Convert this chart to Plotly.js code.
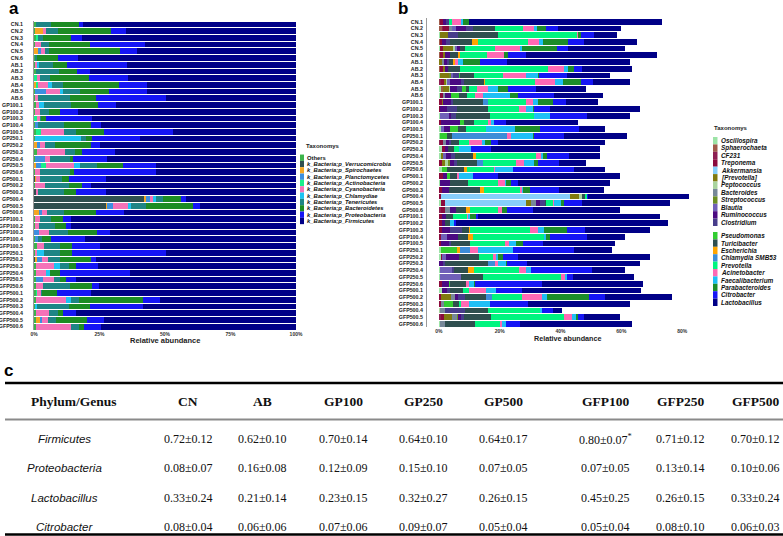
<!DOCTYPE html>
<html><head><meta charset="utf-8">
<script src="https://cdn.plot.ly/plotly-3.0.1.min.js"></script>
<style>html,body{margin:0;padding:0;background:#fff;}#chart{width:783px;height:536px;}</style>
</head><body><div id="chart"></div>
<script>
// ---------- samples ----------
const samples = ["CN.1","CN.2","CN.3","CN.4","CN.5","CN.6",
 "AB.1","AB.2","AB.3","AB.4","AB.5","AB.6",
 "GP100.1","GP100.2","GP100.3","GP100.4","GP100.5",
 "GP250.1","GP250.2","GP250.3","GP250.4","GP250.5","GP250.6",
 "GP500.1","GP500.2","GP500.3","GP500.4","GP500.5","GP500.6",
 "GFP100.1","GFP100.2","GFP100.3","GFP100.4","GFP100.5",
 "GFP250.1","GFP250.2","GFP250.3","GFP250.4","GFP250.5","GFP250.6",
 "GFP500.1","GFP500.2","GFP500.3","GFP500.4","GFP500.5","GFP500.6"];

// ---------- panel a : phylum relative abundance (%) ----------
const phylaLabels = ["Others","k_Bacteria;p_Verrucomicrobia","k_Bacteria;p_Spirochaetes","k_Bacteria;p_Planctomycetes",
 "k_Bacteria;p_Actinobacteria","k_Bacteria;p_Cyanobacteria","k_Bacteria;p_Chlamydiae","k_Bacteria;p_Tenericutes",
 "k_Bacteria;p_Bacteroidetes","k_Bacteria;p_Proteobacteria","k_Bacteria;p_Firmicutes"];
const aOthers = [.6,.5,.6,.5,0,.4, .4,.6,0,0,.5,.5, .9,.5,0,.5,.9, .5,0,1.3,.5,0,.5, 0,.5,0,0,0,0, .5,.5,0,.5,1.3, .5,0,.6,.6,.6,.9, .6,.9,.5,.6,.6,.6];
const aVerrucomicrobia = [0,0,0,0,0,0, 0,0,0,0,0,0, 0,0,0,0,0, 0,0,0,0,0,0, .4,0,.6,42.0,27.5,0, 0,0,0,0,0, 0,.4,0,0,0,0, 0,0,0,0,0,0];
const aSpirochaetes = [0,2.9,0,0,1.5,0, 0,0,0,.9,0,0, 0,0,0,0,0, 0,1.3,0,0,.9,0, .5,0,0,.6,.5,1.9, 0,0,0,0,0, 0,.8,0,0,0,0, 0,0,0,0,1.5,0];
const aPlanctomycetes = [0,0,0,0,1.3,0, 0,0,0,0,4.2,0, 0,0,0,1.0,0, 0,1.1,0,3.6,1.9,0, 0,0,0,1.7,2.3,1.3, 0,0,1.8,1.0,0, 0,2.0,0,0,2.8,0, 0,0,0,0,1.0,0];
const aActinobacteria = [0,0,.9,0,0,0, 0,0,1.3,.6,0,0, 0,0,1.3,0,1.9, 0,0,0,0,1.7,0, 0,0,0,0,0,0, 0,0,0,0,0, 0,0,0,0,0,0, .6,0,0,0,0,0];
const aCyanobacteria = [0,1.3,0,2.3,1.5,0, .8,0,1.1,3.8,5.1,1.0, 1.0,1.7,.9,0,8.6, 0,1.7,10.5,1.9,10.7,1.9, 1.3,3.6,1.0,1.3,5.7,1.8, 1.7,1.4,4.0,0,2.6, .8,2.2,7.0,3.8,4.1,2.6, 1.3,11.2,0,5.0,2.4,13.7];
const aChlamydiae = [0,0,0,0,0,0, .8,0,0,1.7,1.3,0, 1.8,0,0,0,0, 17.6,0,0,0,2.3,0, 0,0,0,.8,.9,0, 0,0,0,0,0, 2.6,0,2.2,1.8,0,0, 0,1.9,.8,0,0,0];
const aTenericutes = [5.7,4.5,1.9,2.8,1.3,.8, 5.1,8.9,3.6,4.1,6.4,12.1, 10.6,3.6,.6,9.8,4.6, 1.7,3.8,3.8,7.7,6.4,11.5, 8.4,9.3,9.8,2.8,5.7,6.4, 4.1,6.0,7.3,1.7,6.0, 6.0,4.7,3.6,0,2.3,10.2, .6,3.2,12.1,3.6,2.9,2.9];
const aBacteroidetes = [10.9,20.2,10.9,15.7,27.2,7.8, 5.4,7.0,15.1,21.3,11.2,10.0, 10.2,4.1,1.7,10.3,10.7, 2.2,14.0,2.9,1.0,10.0,1.3, 2.8,5.1,4.7,7.0,18.0,12.3, 4.6,4.2,10.9,3.2,4.5, 4.5,11.5,2.6,3.6,2.3,8.3, 5.7,24.5,7.9,1.9,11.9,1.9];
const aProteobacteria = [1.5,5.7,4.2,21.1,6.4,7.7, 23.0,4.7,14.9,10.6,14.3,26.7, 6.8,7.0,17.5,3.8,26.3, 18.5,3.2,12.4,13.0,12.8,31.4, 14.0,3.4,11.5,1.7,2.6,10.5, 3.1,2.2,5.1,13.0,10.9, 35.8,2.0,8.6,26.8,3.8,2.9, 13.0,6.4,20.4,5.1,6.3,6.3];
const aFirmicutes = [81.3,64.9,81.5,57.6,60.8,83.3, 64.5,78.8,64.0,57.0,57.0,49.7, 68.7,83.1,78.0,74.6,47.0, 59.5,74.9,69.1,72.3,53.3,53.4, 72.6,78.1,72.4,42.1,36.8,65.8, 86.0,85.7,70.9,80.6,74.7, 49.8,76.4,75.4,63.4,84.1,75.1, 78.2,51.9,58.3,83.8,73.4,74.6];
const phylaValues = [aOthers,aVerrucomicrobia,aSpirochaetes,aPlanctomycetes,aActinobacteria,aCyanobacteria,aChlamydiae,aTenericutes,aBacteroidetes,aProteobacteria,aFirmicutes];
const phylaColors = ["#3CB44B","#2F4F4F","#F5A623","#3D8FE0","#19F08A","#F472B8","#1EC3F2","#1E8585","#1C8C24","#1515F5","#000087"];

// ---------- panel b : genus relative abundance (%) ----------
const genusLabels = ["Oscillospira","Sphaerochaeta","CF231","Treponema","Akkermansia","[Prevotella]","Peptococcus","Bacteroides",
 "Streptococcus","Blautia","Ruminococcus","Clostridium","Pseudomonas","Turicibacter","Escherichia","Chlamydia SMB53",
 "Prevotella","Acinetobacter","Faecalibacterium","Parabacteroides","Citrobacter","Lactobacillus"];
const bOscillospira = [0,0,.3,0,.3,0, 0,0,.4,0,.8,.5, 0,0,.4,0,.6, .5,0,1.0,.8,0,.9, 0,.5,0,0,.8,0, 0,0,0,0,0, .8,.6,0,.4,.5,0, 1.1,0,0,0,0,.3];
const bSphaerochaeta = [.5,.9,0,.3,0,.3, 0,.5,0,0,.5,0, 0,0,0,0,0, 0,0,0,0,0,0, 0,0,0,0,0,0, 0,0,0,0,0, 0,0,0,0,0,0, 0,0,0,0,0,0];
const bCF231 = [0,.5,0,0,0,0, 0,0,0,.6,0,0, 0,0,0,0,0, 0,.5,0,0,0,0, 0,0,0,0,0,.8, 0,0,0,0,0, 0,0,0,0,0,0, 0,0,0,0,.6,0];
const bTreponema = [.8,2.0,0,.8,1.1,.9, 0,.8,0,1.0,0,1.0, 1.0,.5,0,.8,0, 0,.8,1.1,0,1.1,0, 1.3,0,1.1,.6,1.1,1.1, 1.0,.9,1.1,.7,.8, 0,.5,0,0,0,1.1, 0,.7,.8,0,1.0,0];
const bAkkermansia = [0,0,0,0,0,0, 0,0,0,0,0,0, 0,0,0,0,0, 0,0,0,0,0,0, 0,0,0,42.6,26.9,0, 0,0,0,0,0, 0,0,0,0,0,0, 0,0,0,0,0,0];
const bPrevotellaBr = [0,0,2.7,0,3.3,.8, .9,.7,2.9,.6,1.9,0, .5,0,0,0,0, 0,0,0,.6,1.0,0, 0,0,0,3.0,1.6,0, 0,0,0,0,0, 0,0,0,0,0,0, 0,3.3,0,0,2.8,0];
const bPeptococcus = [0,0,0,0,.5,0, 0,0,0,.5,.5,0, 0,0,0,0,0, 0,0,0,0,1.0,0, 0,0,0,1.0,0,0, 0,0,0,0,0, 0,0,0,0,0,0, 0,0,0,.5,0,0];
const bBacteroides = [0,.8,0,0,0,0, .8,0,0,0,0,.5, 0,0,0,0,0, 0,1.1,0,0,0,0, 0,0,0,0,1.6,1.6, 0,0,0,0,0, 0,0,0,0,0,0, 0,1.3,1.0,1.6,1.5,1.7];
const bStreptococcus = [0,0,0,0,0,0, 0,0,.6,0,0,0, 0,0,0,0,0, 0,0,0,0,.5,0, 0,0,0,0,0,0, 0,0,0,0,0, 0,0,0,0,0,0, 0,0,0,0,.5,0];
const bBlautia = [0,1.5,0,0,.6,0, 0,0,.8,1.0,0,0, 0,0,3.0,0,1.0, 0,0,0,1.0,0,0, 0,0,0,0,0,0, 0,0,0,2.0,0, 0,1.2,0,4.0,6.9,0, 0,0,0,0,0,0];
const bRuminococcus = [1.0,3.3,0,1.1,1.1,1.6, 1.0,1.0,0,3.7,2.4,2.1, 2.5,2.2,.5,6.0,2.0, 0,1.0,1.0,1.6,1.5,0, 1.4,3.0,2.2,0,1.4,2.2, 1.4,1.2,2.5,3.7,2.5, 0,4.4,1.5,0,0,2.2, 1.6,1.1,0,0,.8,0];
const bClostridium = [1.0,2.2,3.3,1.6,0,0, .5,0,1.8,.8,1.5,0, .7,3.4,1.7,0,0, 0,.5,0,1.3,.8,0, 0,0,0,0,1.4,0, 0,0,3.9,0,.7, 0,0,.5,.5,0,0, 1.0,2.2,0,6.6,1.0,0];
const bPseudomonas = [0,0,0,0,0,0, 0,0,.3,0,1.3,2.5, 0,0,0,1.4,2.7, 2.2,0,0,0,0,1.9, 1.0,0,0,0,0,0, 0,0,0,0,0, 5.2,0,0,0,0,.5, 0,0,2.8,0,0,0];
const bTuricibacter = [0,7.1,13.0,7.1,1.6,2.7, 1.5,3.9,4.6,6.6,1.0,2.6, 9.8,9.9,11.2,3.5,2.7, 1.6,2.7,2.0,6.0,6.5,5.5, 2.2,6.1,10.1,1.0,.5,3.3, 2.4,1.5,2.4,3.3,6.1, 0,6.5,14.2,4.6,7.1,5.0, 4.2,6.9,2.0,7.5,8.8,9.8];
const bEscherichia = [0,.3,.2,1.9,0,.5, .5,0,0,.4,0,0, 0,0,0,0,0, 0,0,0,1.0,0,1.1, 0,0,1.6,0,0,1.1, 0,0,.5,1.4,0, .8,0,0,2.2,0,0, 0,0,0,0,0,0];
const bChlamydiaSMB53 = [0,0,0,0,0,0, 0,0,0,0,0,0, 1.6,0,0,0,0, 18.1,0,0,0,2.2,0, 0,0,0,0,0,0, 0,0,0,0,0, 3.4,0,2.2,0,0,0, 0,1.9,0,0,0,0];
const bPrevotella = [1.0,9.0,25.8,16.6,9.9,9.0, .2,28.9,9.6,16.3,2.8,2.6, 12.6,10.4,14.5,4.4,6.6, 0,3.3,1.5,19.8,10.6,8.8, 0,9.8,11.7,.5,2.2,9.3, 4.5,0,19.7,23.6,11.5, 0,4.5,0,14.8,25.8,0, 2.1,9.9,.8,17.1,24.3,8.3];
const bAcinetobacter = [3.0,3.8,.5,3.5,8.2,5.5, .8,5.5,7.7,6.6,3.3,2.7, 2.2,2.3,0,1.1,0, 1.4,4.4,0,1.5,2.8,.3, .8,2.2,.5,0,.4,1.4, .3,0,2.4,0,1.6, 2.7,1.0,1.2,2.2,1.1,1.1, 5.5,6.6,2.6,0,2.5,.5];
const bFaecalibacterium = [.5,.8,0,1.3,.9,0, 1.8,1.2,3.8,2.7,3.5,8.8, 1.7,2.2,5.3,.8,9.3, 7.1,.9,4.1,.5,3.3,6.0, 4.6,.5,.6,0,2.2,0, .7,1.3,2.2,.4,2.2, 11.5,.8,2.4,1.6,.8,1.6, 3.3,1.6,6.8,.5,1.3,1.4];
const bParabacteroides = [2.2,3.1,.8,8.3,11.2,1.4, 5.5,2.0,.5,6.0,3.1,2.7, 4.9,.3,0,0,8.2, .3,1.9,0,1.6,1.3,0, 0,1.7,2.2,0,1.0,1.6, 2.0,0,7.4,1.5,2.2, 0,1.5,.5,0,0,.5, 0,14.0,0,0,.5,0];
const bCitrobacter = [0,3.8,4.5,5.1,3.8,6.0, 8.8,2.5,9.0,4.0,9.3,12.0, 4.4,5.5,12.0,4.0,13.0, 10.0,2.2,6.6,7.0,6.8,20.0, 8.0,2.2,9.6,.5,6.0,8.6, .5,.6,6.0,12.0,6.8, 20.0,5.0,6.5,20.0,2.0,22.0, 8.4,5.0,12.6,3.8,2.0,4.6];
const bLactobacillus = [63.4,20.9,7.4,17.5,18.7,43.0, 40.5,16.5,14.3,12.0,16.5,15.9, 10.4,29.4,14.2,23.7,8.5, 20.8,35.3,35.7,10.3,9.1,10.1, 40.2,30.3,14.7,33.0,28.9,28.5, 59.9,69.8,21.3,12.6,23.5, 12.5,43.4,37.1,10.9,19.9,33.1, 39.2,22.1,33.4,2.8,11.9,36.9];
const genusValues = [bOscillospira,bSphaerochaeta,bCF231,bTreponema,bAkkermansia,bPrevotellaBr,bPeptococcus,bBacteroides,
 bStreptococcus,bBlautia,bRuminococcus,bClostridium,bPseudomonas,bTuricibacter,bEscherichia,bChlamydiaSMB53,
 bPrevotella,bAcinetobacter,bFaecalibacterium,bParabacteroides,bCitrobacter,bLactobacillus];
const genusColors = ["#9CE3A6","#A05A4A","#8E1F52","#8B0A3C","#87CEFA","#807A10","#A9D49E","#778899",
 "#6B8E23","#7060B8","#4B0A82","#483D8B","#32CD32","#2F4F4F","#FFA500","#3C8DD8",
 "#00F57F","#FF69B4","#1EBFF5","#1C8C2A","#1515F5","#000087"];

// ---------- panel c : table ----------
const tableHeader = ["Phylum/Genus","CN","AB","GP100","GP250","GP500","GFP100","GFP250","GFP500"];
const tableRows = ["Firmicutes","Proteobacteria","Lactobacillus","Citrobacter"];
const firmicutesVals = ["0.72±0.12","0.62±0.10","0.70±0.14","0.64±0.10","0.64±0.17","0.80±0.07<sup>*</sup>","0.71±0.12","0.70±0.12"];
const proteobacteriaVals = ["0.08±0.07","0.16±0.08","0.12±0.09","0.15±0.10","0.07±0.05","0.07±0.05","0.13±0.14","0.10±0.06"];
const lactobacillusVals = ["0.33±0.24","0.21±0.14","0.23±0.15","0.32±0.27","0.26±0.15","0.45±0.25","0.26±0.15","0.33±0.24"];
const citrobacterVals = ["0.08±0.04","0.06±0.06","0.07±0.06","0.09±0.07","0.05±0.04","0.05±0.04","0.08±0.10","0.06±0.03"];
const tableValues = [firmicutesVals,proteobacteriaVals,lactobacillusVals,citrobacterVals];

// ---------- build ----------
const W=783,H=536;
const px=x=>x/W, py=y=>1-y/H;
const SANS='"Liberation Sans", Arial, sans-serif', SERIF='"Liberation Serif", "Times New Roman", serif';
const traces=[];
phylaValues.forEach((v,i)=>traces.push({type:'bar',orientation:'h',y:samples,x:v,xaxis:'x',yaxis:'y',
  marker:{color:phylaColors[i],line:{width:0}},name:phylaLabels[i],showlegend:false,hoverinfo:'skip'}));
genusValues.forEach((v,i)=>traces.push({type:'bar',orientation:'h',y:samples,x:v,xaxis:'x2',yaxis:'y2',
  marker:{color:genusColors[i],line:{width:0}},name:genusLabels[i],showlegend:false,hoverinfo:'skip'}));

const yTick={family:SANS,size:5.3,color:'#222',weight:'bold'};
const xTick={family:SANS,size:5,color:'#333',weight:'bold'};
const shapes=[], ann=[];

// panel letters
ann.push({x:px(7),y:py(9),xref:'paper',yref:'paper',text:'<b>a</b>',showarrow:false,xanchor:'left',yanchor:'middle',font:{family:SANS,size:17,color:'#000'}});
ann.push({x:px(396),y:py(9),xref:'paper',yref:'paper',text:'<b>b</b>',showarrow:false,xanchor:'left',yanchor:'middle',font:{family:SANS,size:17,color:'#000'}});
ann.push({x:px(2),y:py(370),xref:'paper',yref:'paper',text:'<b>c</b>',showarrow:false,xanchor:'left',yanchor:'middle',font:{family:SANS,size:17,color:'#000'}});

// axis titles
ann.push({x:px(165),y:py(340.5),xref:'paper',yref:'paper',text:'<b>Relative abundance</b>',showarrow:false,xanchor:'center',yanchor:'middle',font:{family:SANS,size:7.5,color:'#222'}});
ann.push({x:px(568),y:py(338.5),xref:'paper',yref:'paper',text:'<b>Relative abundance</b>',showarrow:false,xanchor:'center',yanchor:'middle',font:{family:SANS,size:7.2,color:'#222'}});

// legend a
ann.push({x:px(304),y:py(146),xref:'paper',yref:'paper',text:'<b>Taxonomys</b>',showarrow:false,xanchor:'left',yanchor:'middle',font:{family:SANS,size:6,color:'#222'}});
phylaLabels.forEach((l,i)=>{
  const yc=157.7+6.33*i;
  shapes.push({type:'rect',xref:'paper',yref:'paper',x0:px(300),x1:px(304),y0:py(yc-3.15),y1:py(yc+3.15),fillcolor:phylaColors[i],line:{width:0}});
  ann.push({x:px(304.5),y:py(yc),xref:'paper',yref:'paper',text:i===0?'<b>'+l+'</b>':'<b><i>'+l+'</i></b>',showarrow:false,xanchor:'left',yanchor:'middle',font:{family:SANS,size:5.8,color:'#111'}});
});
// legend b
ann.push({x:px(712),y:py(128),xref:'paper',yref:'paper',text:'<b>Taxonomys</b>',showarrow:false,xanchor:'left',yanchor:'middle',font:{family:SANS,size:6,color:'#222'}});
genusLabels.forEach((l,i)=>{
  const yc = i<12 ? 140.7+7.42*i : 235.7+7.4*(i-12);
  shapes.push({type:'rect',xref:'paper',yref:'paper',x0:px(713),x1:px(717.5),y0:py(yc-3.7),y1:py(yc+3.7),fillcolor:genusColors[i],line:{width:0}});
  ann.push({x:px(719),y:py(yc),xref:'paper',yref:'paper',text:'<b><i>'+l+'</i></b>',showarrow:false,xanchor:'left',yanchor:'middle',font:{family:SANS,size:6.4,color:'#111'}});
});

// table
shapes.push({type:'line',xref:'paper',yref:'paper',x0:px(5),x1:px(783),y0:py(383),y1:py(383),line:{color:'#000',width:2.5}});
shapes.push({type:'line',xref:'paper',yref:'paper',x0:px(5),x1:px(783),y0:py(419.5),y1:py(419.5),line:{color:'#8a8a8a',width:2}});
shapes.push({type:'line',xref:'paper',yref:'paper',x0:px(5),x1:px(783),y0:py(534.5),y1:py(534.5),line:{color:'#000',width:2.5}});
const colX=[74,188,262,343,423,503,605,680,755];
const rowY=[439,468,498,527];
tableHeader.forEach((h,j)=>ann.push({x:px(colX[j]),y:py(401),xref:'paper',yref:'paper',text:'<b>'+h+'</b>',showarrow:false,xanchor:'center',yanchor:'middle',font:{family:SERIF,size:13.5,color:'#111'}}));
tableRows.forEach((r,i)=>{
  ann.push({x:px(64),y:py(rowY[i]),xref:'paper',yref:'paper',text:'<i>'+r+'</i>',showarrow:false,xanchor:'center',yanchor:'middle',font:{family:SANS,size:11.5,color:'#111'}});
  tableValues[i].forEach((v,j)=>ann.push({x:px(colX[j+1]),y:py(rowY[i]),xref:'paper',yref:'paper',text:v,showarrow:false,xanchor:'center',yanchor:'middle',font:{family:SERIF,size:12,color:'#111'}}));
});

const layout={width:W,height:H,margin:{l:0,r:0,t:0,b:0},paper_bgcolor:'#fff',plot_bgcolor:'#fff',
  barmode:'stack',bargap:0.15,showlegend:false,
  xaxis:{domain:[px(34),px(296)],range:[0,100],anchor:'y',tickvals:[0,25,50,75,100],ticktext:['0%','25%','50%','75%','100%'],
    showgrid:false,zeroline:false,showline:false,ticks:'',tickfont:xTick,ticklabelstandoff:0},
  yaxis:{domain:[py(330),py(21)],anchor:'x',type:'category',categoryarray:samples,categoryorder:'array',range:[45.5,-0.5],autorange:false,
    showgrid:false,zeroline:false,showline:true,linecolor:'#9a9a9a',linewidth:1,ticks:'',tickfont:yTick,ticklabelstandoff:9},
  xaxis2:{domain:[px(427),px(708)],range:[-3.9,88.5],anchor:'y2',tickvals:[0,20,40,60,80],ticktext:['0%','20%','40%','60%','80%'],
    showgrid:false,zeroline:false,showline:false,ticks:'',tickfont:xTick,ticklabelstandoff:0},
  yaxis2:{domain:[py(327.4),py(18.3)],anchor:'x2',type:'category',categoryarray:samples,categoryorder:'array',range:[45.5,-0.5],autorange:false,
    showgrid:false,zeroline:false,showline:true,linecolor:'#9a9a9a',linewidth:1,ticks:'',tickfont:yTick,ticklabelstandoff:2},
  shapes:shapes,annotations:ann};
Plotly.newPlot('chart',traces,layout,{staticPlot:true,displayModeBar:false});
</script></body></html>
